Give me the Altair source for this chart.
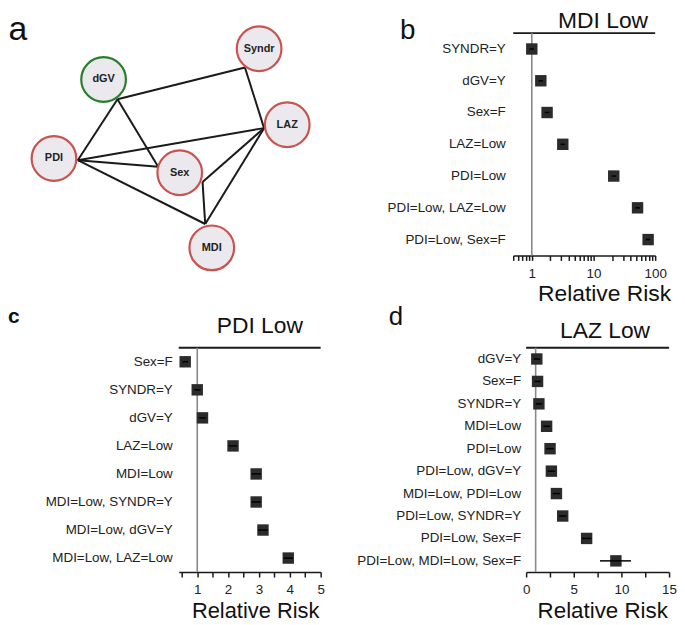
import altair as alt
import pandas as pd

FONT = "Liberation Sans"
INK = "#1a1a1a"
LAB = "#222222"

# ---------------- panel a : association network (page px)
node_names = ["Syndr", "dGV", "LAZ", "PDI", "Sex", "MDI"]
node_x = [261.0, 104.3, 289.3, 54.3, 181.0, 213.3]
node_y = [46.7, 77.7, 123.3, 157.3, 171.7, 247.3]
node_kind = ["phenotype", "genetic", "phenotype", "phenotype", "phenotype", "phenotype"]

# edge end points (where each line meets its node)
edge_x1 = [118.3, 118.3, 118.3, 246.7, 78.3, 78.3, 78.3, 204.0, 204.0, 266.0]
edge_y1 = [97.7, 97.7, 97.7, 65.7, 159.0, 159.0, 159.0, 181.0, 181.0, 126.7]
edge_x2 = [246.7, 78.3, 159.3, 266.0, 266.0, 159.3, 206.7, 266.0, 206.7, 206.7]
edge_y2 = [65.7, 159.0, 165.7, 126.7, 126.7, 165.7, 223.3, 126.7, 223.3, 223.3]

# ---------------- panel b : MDI Low
b_labels = ["SYNDR=Y", "dGV=Y", "Sex=F", "LAZ=Low", "PDI=Low",
            "PDI=Low, LAZ=Low", "PDI=Low, Sex=F"]
b_rr = [1.0, 1.40, 1.77, 3.18, 21.3, 51.8, 76.9]
b_lo = [0.92, 1.29, 1.63, 2.93, 19.6, 47.5, 70.5]
b_hi = [1.08, 1.52, 1.92, 3.45, 23.1, 56.5, 83.5]
b_ticks = [0.5, 0.6, 0.7, 0.8, 0.9, 1, 2, 3, 4, 5, 6, 7, 8, 9, 10,
           20, 30, 40, 50, 60, 70, 80, 90, 100]

# ---------------- panel c : PDI Low
c_labels = ["Sex=F", "SYNDR=Y", "dGV=Y", "LAZ=Low", "MDI=Low",
            "MDI=Low, SYNDR=Y", "MDI=Low, dGV=Y", "MDI=Low, LAZ=Low"]
c_rr = [0.61, 1.0, 1.17, 2.16, 2.91, 2.91, 3.13, 3.95]
c_lo = [0.52, 0.90, 1.06, 2.02, 2.76, 2.76, 2.97, 3.80]
c_hi = [0.70, 1.10, 1.28, 2.30, 3.06, 3.06, 3.29, 4.10]
c_ticks = [0.5, 1, 1.5, 2, 2.5, 3, 3.5, 4, 4.5, 5]

# ---------------- panel d : LAZ Low
d_labels = ["dGV=Y", "Sex=F", "SYNDR=Y", "MDI=Low", "PDI=Low",
            "PDI=Low, dGV=Y", "MDI=Low, PDI=Low", "PDI=Low, SYNDR=Y",
            "PDI=Low, Sex=F", "PDI=Low, MDI=Low, Sex=F"]
d_rr = [1.12, 1.20, 1.34, 2.15, 2.51, 2.65, 3.18, 3.84, 6.35, 9.42]
d_lo = [0.80, 0.88, 1.00, 1.80, 2.10, 2.25, 2.80, 3.45, 5.85, 7.75]
d_hi = [1.45, 1.52, 1.70, 2.50, 2.92, 3.05, 3.55, 4.25, 6.85, 11.0]
d_ticks = [0, 2.5, 5, 7.5, 10, 12.5, 15]

# ---------------- layout (page pixels of each plot area)
A_X0, A_Y0, A_W, A_H = 180, 31, 150, 240
B_W, B_H = 143, 224
C_W, C_H = 143, 226
D_W, D_H = 144, 226
ANCHOR_Y = -10  # invisible top-left reference point of the whole figure


def text_layer(txt, x, y, size, weight="normal", align="center"):
    return alt.Chart(pd.DataFrame({"t": [txt]})).mark_text(
        font=FONT, fontSize=size, fontWeight=weight, color="#111111",
        align=align, baseline="alphabetic"
    ).encode(x=alt.value(x), y=alt.value(y), text="t:N")


def forest(labels, rr, lo, hi, scale, ticks, label_expr, width, height,
           lab_pad, title, title_xy, letter, letter_xy, letter_size,
           letter_weight, axis_title_xy, axis_title_size):
    df = pd.DataFrame({"label": labels, "rr": rr, "lo": lo, "hi": hi})
    xaxis = alt.Axis(
        values=ticks, labelExpr=label_expr, title="Relative Risk",
        titleFont=FONT, titleFontSize=axis_title_size, titleFontWeight="normal",
        titleColor="#111111", titleX=axis_title_xy[0], titleY=axis_title_xy[1],
        titleAlign="center", titleBaseline="alphabetic",
        labelFont=FONT, labelFontSize=13.5, labelColor=LAB, labelPadding=6,
        labelFlush=False, labelOverlap=False,
        domainColor=INK, domainWidth=1.5, tickColor=INK, tickWidth=1.5,
        tickSize=5, grid=False)
    yenc = alt.Y("label:N", sort=labels, title=None,
                 axis=alt.Axis(domain=False, ticks=False, labelFont=FONT,
                               labelFontSize=13.5, labelColor=LAB,
                               labelPadding=lab_pad, labelLimit=0))
    one = pd.DataFrame({"k": [0]})
    top = alt.Chart(one).mark_rule(color=INK, strokeWidth=2).encode(
        x=alt.value(0), x2=alt.value("width"), y=alt.value(0))
    ref = alt.Chart(one).mark_rule(color="#8a8a8a", strokeWidth=1.6).encode(
        x=alt.XDatum(1, type="quantitative", scale=scale, axis=xaxis),
        y=alt.value(0), y2=alt.value("height"))
    squares = alt.Chart(df).mark_square(
        size=132, color="#2b2b2b", opacity=1, filled=True).encode(
        x=alt.X("rr:Q", scale=scale, axis=xaxis), y=yenc)
    ci = alt.Chart(df).mark_rule(color="#000000", strokeWidth=1.5).encode(
        x=alt.X("lo:Q", scale=scale, axis=xaxis), x2="hi:Q", y=yenc)
    ttl = text_layer(title, title_xy[0], title_xy[1], 23)
    let = text_layer(letter, letter_xy[0], letter_xy[1], letter_size,
                     letter_weight, "left")
    return alt.layer(top, ref, squares, ci, ttl, let).properties(
        width=width, height=height)


# ---------------- panel a chart
nodes_df = pd.DataFrame({"name": node_names, "x": node_x, "y": node_y,
                         "kind": node_kind})
edges_df = pd.DataFrame({"x": edge_x1, "y": edge_y1, "x2": edge_x2,
                         "y2": edge_y2})
ax_s = alt.Scale(domain=[A_X0, A_X0 + A_W], nice=False, zero=False)
ay_s = alt.Scale(domain=[A_Y0, A_Y0 + A_H], nice=False, zero=False,
                 reverse=True)
AX = alt.X("x:Q", scale=ax_s, axis=None)
AY = alt.Y("y:Q", scale=ay_s, axis=None)

edges = alt.Chart(edges_df).mark_rule(color=INK, strokeWidth=2).encode(
    x=AX, y=AY, x2="x2:Q", y2="y2:Q")
circles = alt.Chart(nodes_df).mark_point(
    shape="circle", size=2025, fill="#ebe9ee", fillOpacity=1,
    strokeWidth=2.2, opacity=1).encode(
    x=AX, y=AY,
    stroke=alt.Stroke("kind:N", legend=None,
                      scale=alt.Scale(domain=["phenotype", "genetic"],
                                      range=["#c8534f", "#2a7d2a"])))
node_text = alt.Chart(nodes_df).mark_text(
    font=FONT, fontSize=11, fontWeight="bold", color="#222222",
    baseline="middle", align="center").encode(x=AX, y=AY, text="name:N")
anchor = alt.Chart(pd.DataFrame({"x": [8.0], "y": [float(ANCHOR_Y)],
                                 "x2": [9.0], "y2": [ANCHOR_Y + 1.0]})).mark_rule(
    opacity=0, strokeOpacity=0).encode(x=AX, y=AY, x2="x2:Q", y2="y2:Q")
letter_a = text_layer("a", 8.6 - A_X0, 38 - A_Y0, 34, "normal", "left")
panel_a = alt.layer(edges, circles, node_text, anchor, letter_a).properties(
    width=A_W, height=A_H)

panel_b = forest(
    b_labels, b_rr, b_lo, b_hi,
    alt.Scale(type="log", domain=[0.5, 100], nice=False), b_ticks,
    "indexof([1, 10, 100], datum.value) >= 0 ? format(datum.value, 'd') : ''",
    B_W, B_H, 8, "MDI Low", (90.5, -5), "b", (-114, 6), 28, "normal",
    (91.5, 45.5), 23)

panel_c = forest(
    c_labels, c_rr, c_lo, c_hi,
    alt.Scale(domain=[0.4, 5], nice=False, zero=False), c_ticks,
    "datum.value % 1 == 0 ? format(datum.value, 'd') : ''",
    C_W, C_H, 6.5, "PDI Low", (81.7, -15), "c", (-172, -25), 21, "bold",
    (77, 45.5), 22)

panel_d = forest(
    d_labels, d_rr, d_lo, d_hi,
    alt.Scale(domain=[0, 15], nice=False, zero=False), d_ticks,
    "datum.value % 5 == 0 ? format(datum.value, 'd') : ''",
    D_W, D_H, 5.5, "LAZ Low", (79.5, -10), "d", (-138.5, -23), 26, "normal",
    (76.7, 46), 22.5)

row1 = alt.hconcat(panel_a, panel_b, spacing=517 - A_X0 - A_W, bounds="flush")
row2 = alt.hconcat(panel_c, panel_d, spacing=530 - A_X0 - C_W, bounds="flush")

chart = alt.vconcat(
    row1, row2, spacing=-2,
    padding={"top": ANCHOR_Y - 8, "left": 0, "right": 0, "bottom": 0}
).configure(font=FONT, background="white").configure_view(
    strokeWidth=0, stroke="transparent")

chart.save("out.html", embed_options={"renderer": "svg", "actions": False})
